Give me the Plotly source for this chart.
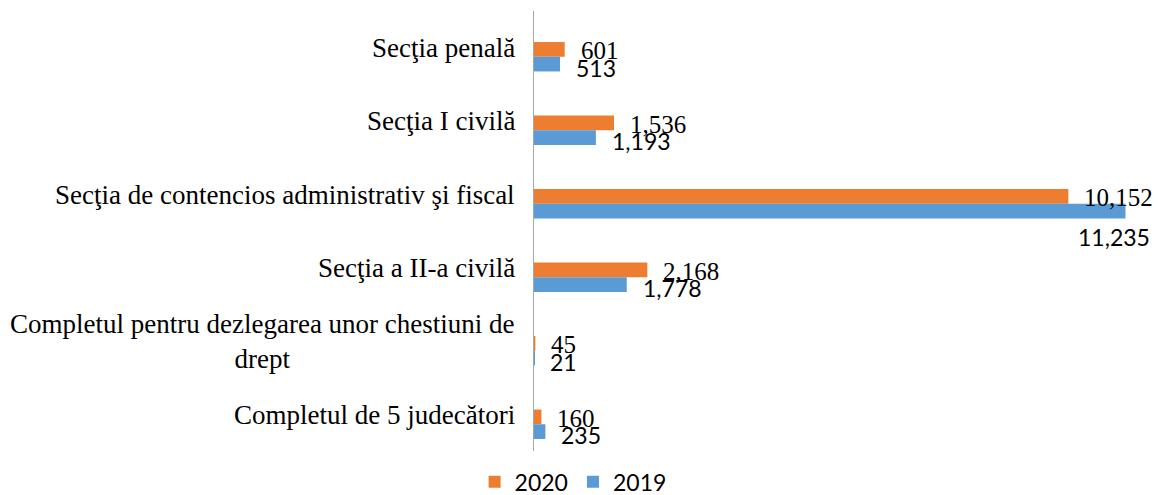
import plotly.graph_objects as go

categories = [
    "Secţia penală",
    "Secţia I civilă",
    "Secţia de contencios administrativ şi fiscal",
    "Secţia a II-a civilă",
    "Completul pentru dezlegarea unor chestiuni de<br>drept",
    "Completul de 5 judecători",
]
values_2020 = [601, 1536, 10152, 2168, 45, 160]
values_2019 = [513, 1193, 11235, 1778, 21, 235]
series_names = ["2020", "2019"]

ORANGE = "#ED7D31"
BLUE = "#5B9BD5"
SERIF = "Liberation Serif"
SANS = "Lato"

fig = go.Figure()
fig.add_trace(go.Bar(y=categories, x=values_2020, name=series_names[0], orientation="h",
                     marker=dict(color=ORANGE, line=dict(width=0))))
fig.add_trace(go.Bar(y=categories, x=values_2019, name=series_names[1], orientation="h",
                     marker=dict(color=BLUE, line=dict(width=0))))

annotations = []
xmax = 11700
for cat, v in zip(categories, values_2020):
    annotations.append(dict(x=v, y=cat, xref="x", yref="y", text=f"{v:,}", showarrow=False,
                            xanchor="left", yanchor="middle", xshift=14, yshift=6,
                            font=dict(family=SERIF, size=25, color="#000")))
for cat, v in zip(categories, values_2019):
    if v > 0.9 * xmax:
        annotations.append(dict(x=v, y=cat, xref="x", yref="y", text=f"{v:,}", showarrow=False,
                                xanchor="right", yanchor="middle", xshift=27, yshift=-33,
                                font=dict(family=SANS, size=23, color="#000")))
    else:
        annotations.append(dict(x=v, y=cat, xref="x", yref="y", text=f"{v:,}", showarrow=False,
                                xanchor="left", yanchor="middle", xshift=14, yshift=-11,
                                font=dict(family=SANS, size=23, color="#000")))
for cat in categories:
    annotations.append(dict(x=0, y=cat, xref="paper", yref="y", text=cat, showarrow=False,
                            xanchor="right", yanchor="middle", align="center", xshift=-16, yshift=9,
                            font=dict(family=SERIF, size=27, color="#000")))

fig.update_layout(
    width=1160, height=495,
    margin=dict(l=525, r=18, t=12, b=42, autoexpand=False),
    paper_bgcolor="white", plot_bgcolor="white",
    barmode="group", bargap=0.6, bargroupgap=0,
    showlegend=True,
    legend=dict(orientation="h", x=0.065, xanchor="center", y=-0.047, yanchor="middle",
                font=dict(family=SANS, size=23, color="#000"), itemwidth=30,
                traceorder="normal"),
    xaxis=dict(range=[0, xmax], showgrid=False, zeroline=False, showticklabels=False,
               showline=False, ticks=""),
    yaxis=dict(autorange="reversed", showgrid=False, zeroline=False, showticklabels=False,
               showline=False, ticks=""),
    annotations=annotations,
    shapes=[dict(type="line", xref="x", yref="paper", x0=0, x1=0, y0=0.0227, y1=1.0204,
                 line=dict(color="#A6A6A6", width=2))],
)

fig.write_html("out.html")
